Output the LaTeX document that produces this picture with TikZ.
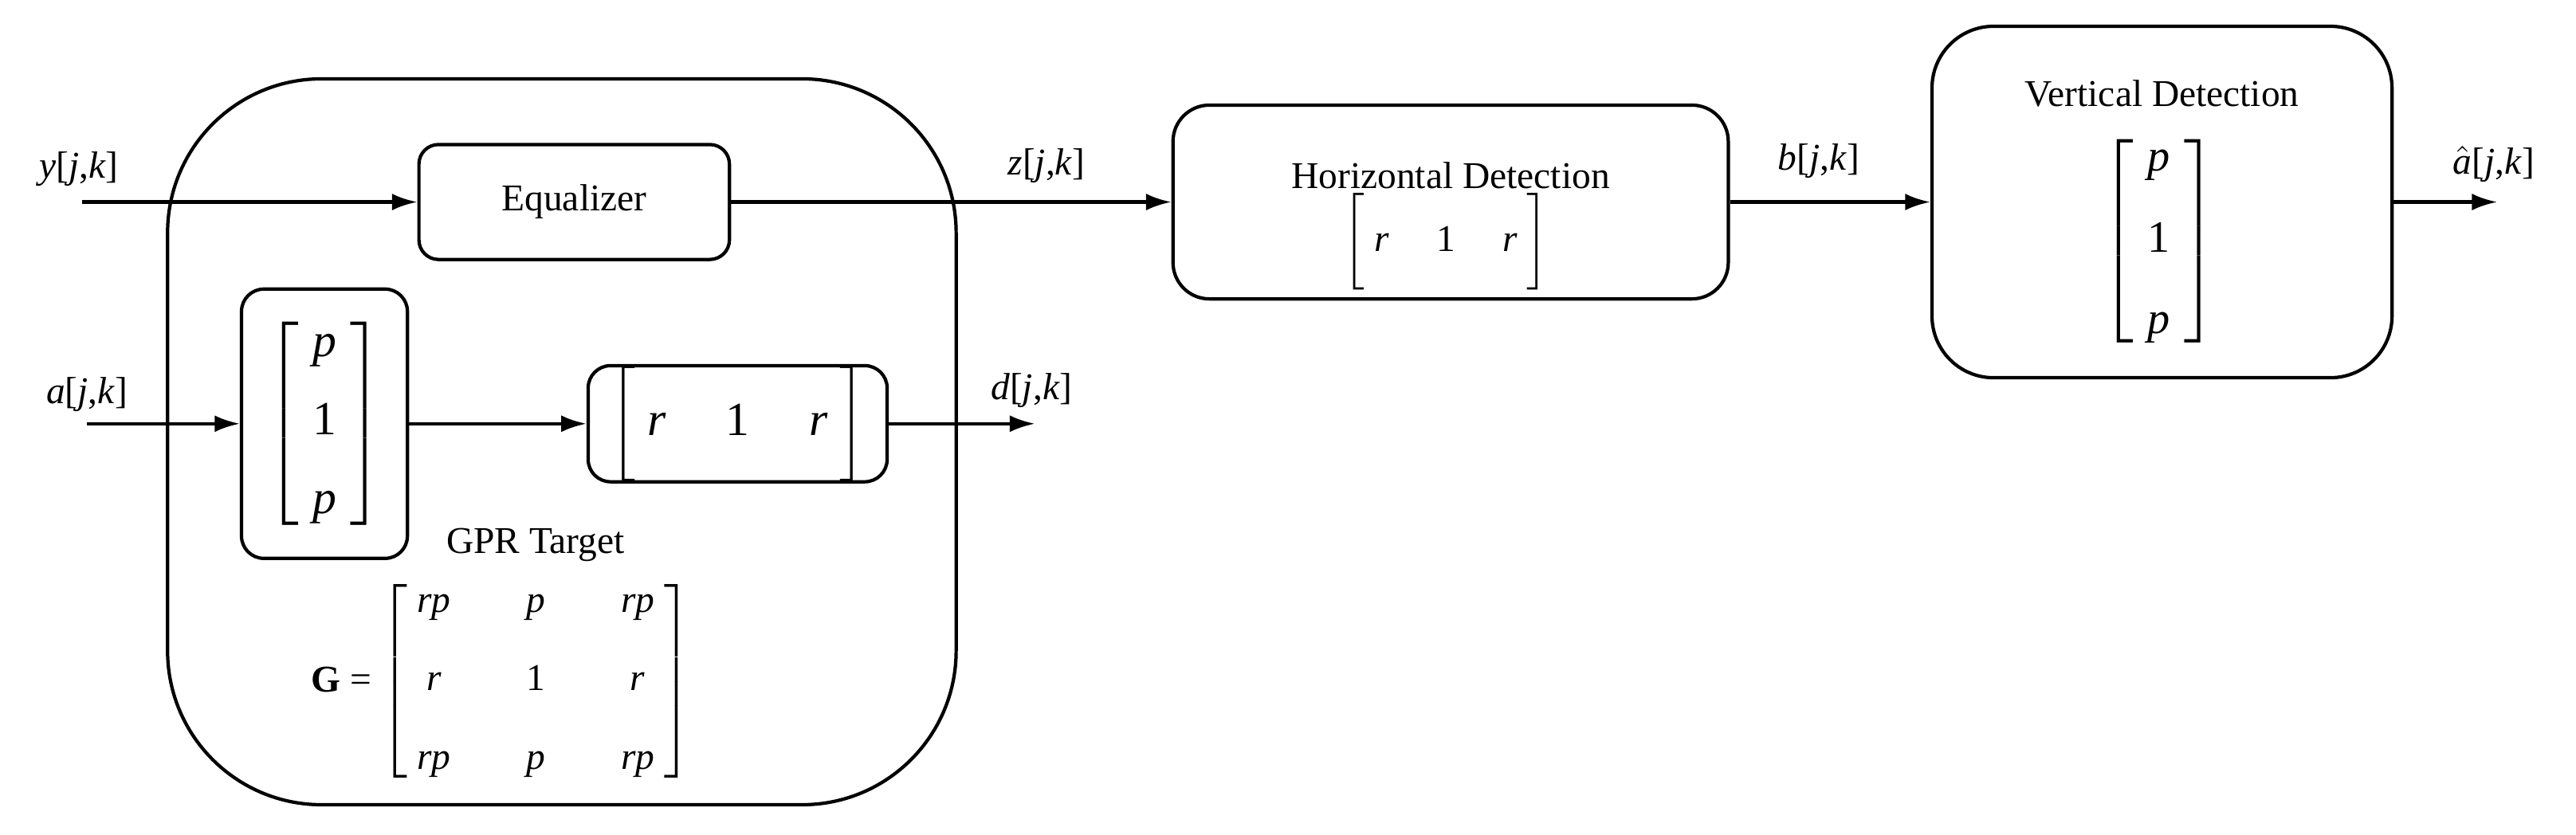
\documentclass[tikz,border=0pt]{standalone}
\usepackage{amsmath}
\usepackage{fontspec}
\setmainfont{Liberation Serif}
\usetikzlibrary{arrows.meta}
\newcommand{\ti}[1]{\textit{#1}}
\newcommand{\on}{\textup{1}}
\begin{document}
\begin{tikzpicture}[x=0.020612cm,y=-0.020612cm,
  every node/.style={font=\fontsize{13.5}{16}\selectfont, inner sep=0pt},
  box/.style={draw, line width=1.2pt, rounded corners=#1},
  arr/.style={-{Latex[length=9pt,width=6pt]}, line width=1.2pt}]
\useasboundingbox (0,0) rectangle (1568,508.4);
\draw[box=55pt] (102,48) rectangle (582,490);
\node[box=7pt, minimum width=189*0.020612cm, minimum height=70*0.020612cm] (eq) at (349.5,123) {Equalizer};
\node[box=13pt, minimum width=338*0.020612cm, minimum height=118*0.020612cm] (hd) at (883,123) {};
\node at (883,107) {Horizontal Detection};
\node at (880,147) {$\bigg[\ \textit{r}\quad\ \on\quad\ \textit{r}\ \bigg]$};
\node[box=22pt, minimum width=280*0.020612cm, minimum height=214*0.020612cm] (vd) at (1316,123) {};
\node at (1316,57) {Vertical Detection};
\node at (1314,147) {\fontsize{16}{19}\selectfont$\left[\begin{array}{c}\textit{p}\\[10pt]\on\\[10pt]\textit{p}\end{array}\right]$};
\node[box=8pt, minimum width=101*0.020612cm, minimum height=164*0.020612cm] (pb) at (197.5,258) {\fontsize{17}{20}\selectfont$\left[\begin{array}{c}\textit{p}\\[8pt]\on\\[8pt]\textit{p}\end{array}\right]$};
\node[box=8pt, minimum width=182*0.020612cm, minimum height=65*0.020612cm] (rb) at (449,258) {\fontsize{17}{20}\selectfont$\bigg[\ \textit{r}\quad\ \on\quad\ \textit{r}\ \bigg]$};
\coordinate (yin) at (50,123);
\coordinate (ain) at (53,258);
\coordinate (dout) at (630,258);
\coordinate (aout) at (1520,123);
\draw[arr] (yin) -- (eq.west);
\draw[arr] (eq.east) -- (hd.west);
\draw[arr] (hd.east) -- (vd.west);
\draw[arr] (vd.east) -- (aout);
\draw[arr] (ain) -- (pb.west);
\draw[arr] (pb.east) -- (rb.west);
\draw[arr] (rb.east) -- (dout);
\node (ly) at (48,103) {\ti{y}[\ti{j},\ti{k}]};
\node (lz) at (637,101) {\ti{z}[\ti{j},\ti{k}]};
\node (lb) at (1107,98) {\ti{b}[\ti{j},\ti{k}]};
\node (lah) at (1518,100) {$\hat{\textit{a}}$[\ti{j},\ti{k}]};
\node (la) at (53,240) {\ti{a}[\ti{j},\ti{k}]};
\node (ld) at (628,238) {\ti{d}[\ti{j},\ti{k}]};
\node (gpr) at (326,332) {GPR Target};
\node (G) at (305,415) {\textbf{G} = $\left[\begin{array}{@{\ }c@{\qquad}c@{\qquad}c@{\ }}\textit{rp}&\textit{p}&\textit{rp}\\[12pt]\textit{r}&\on&\textit{r}\\[12pt]\textit{rp}&\textit{p}&\textit{rp}\end{array}\right]$};
\end{tikzpicture}
\end{document}
